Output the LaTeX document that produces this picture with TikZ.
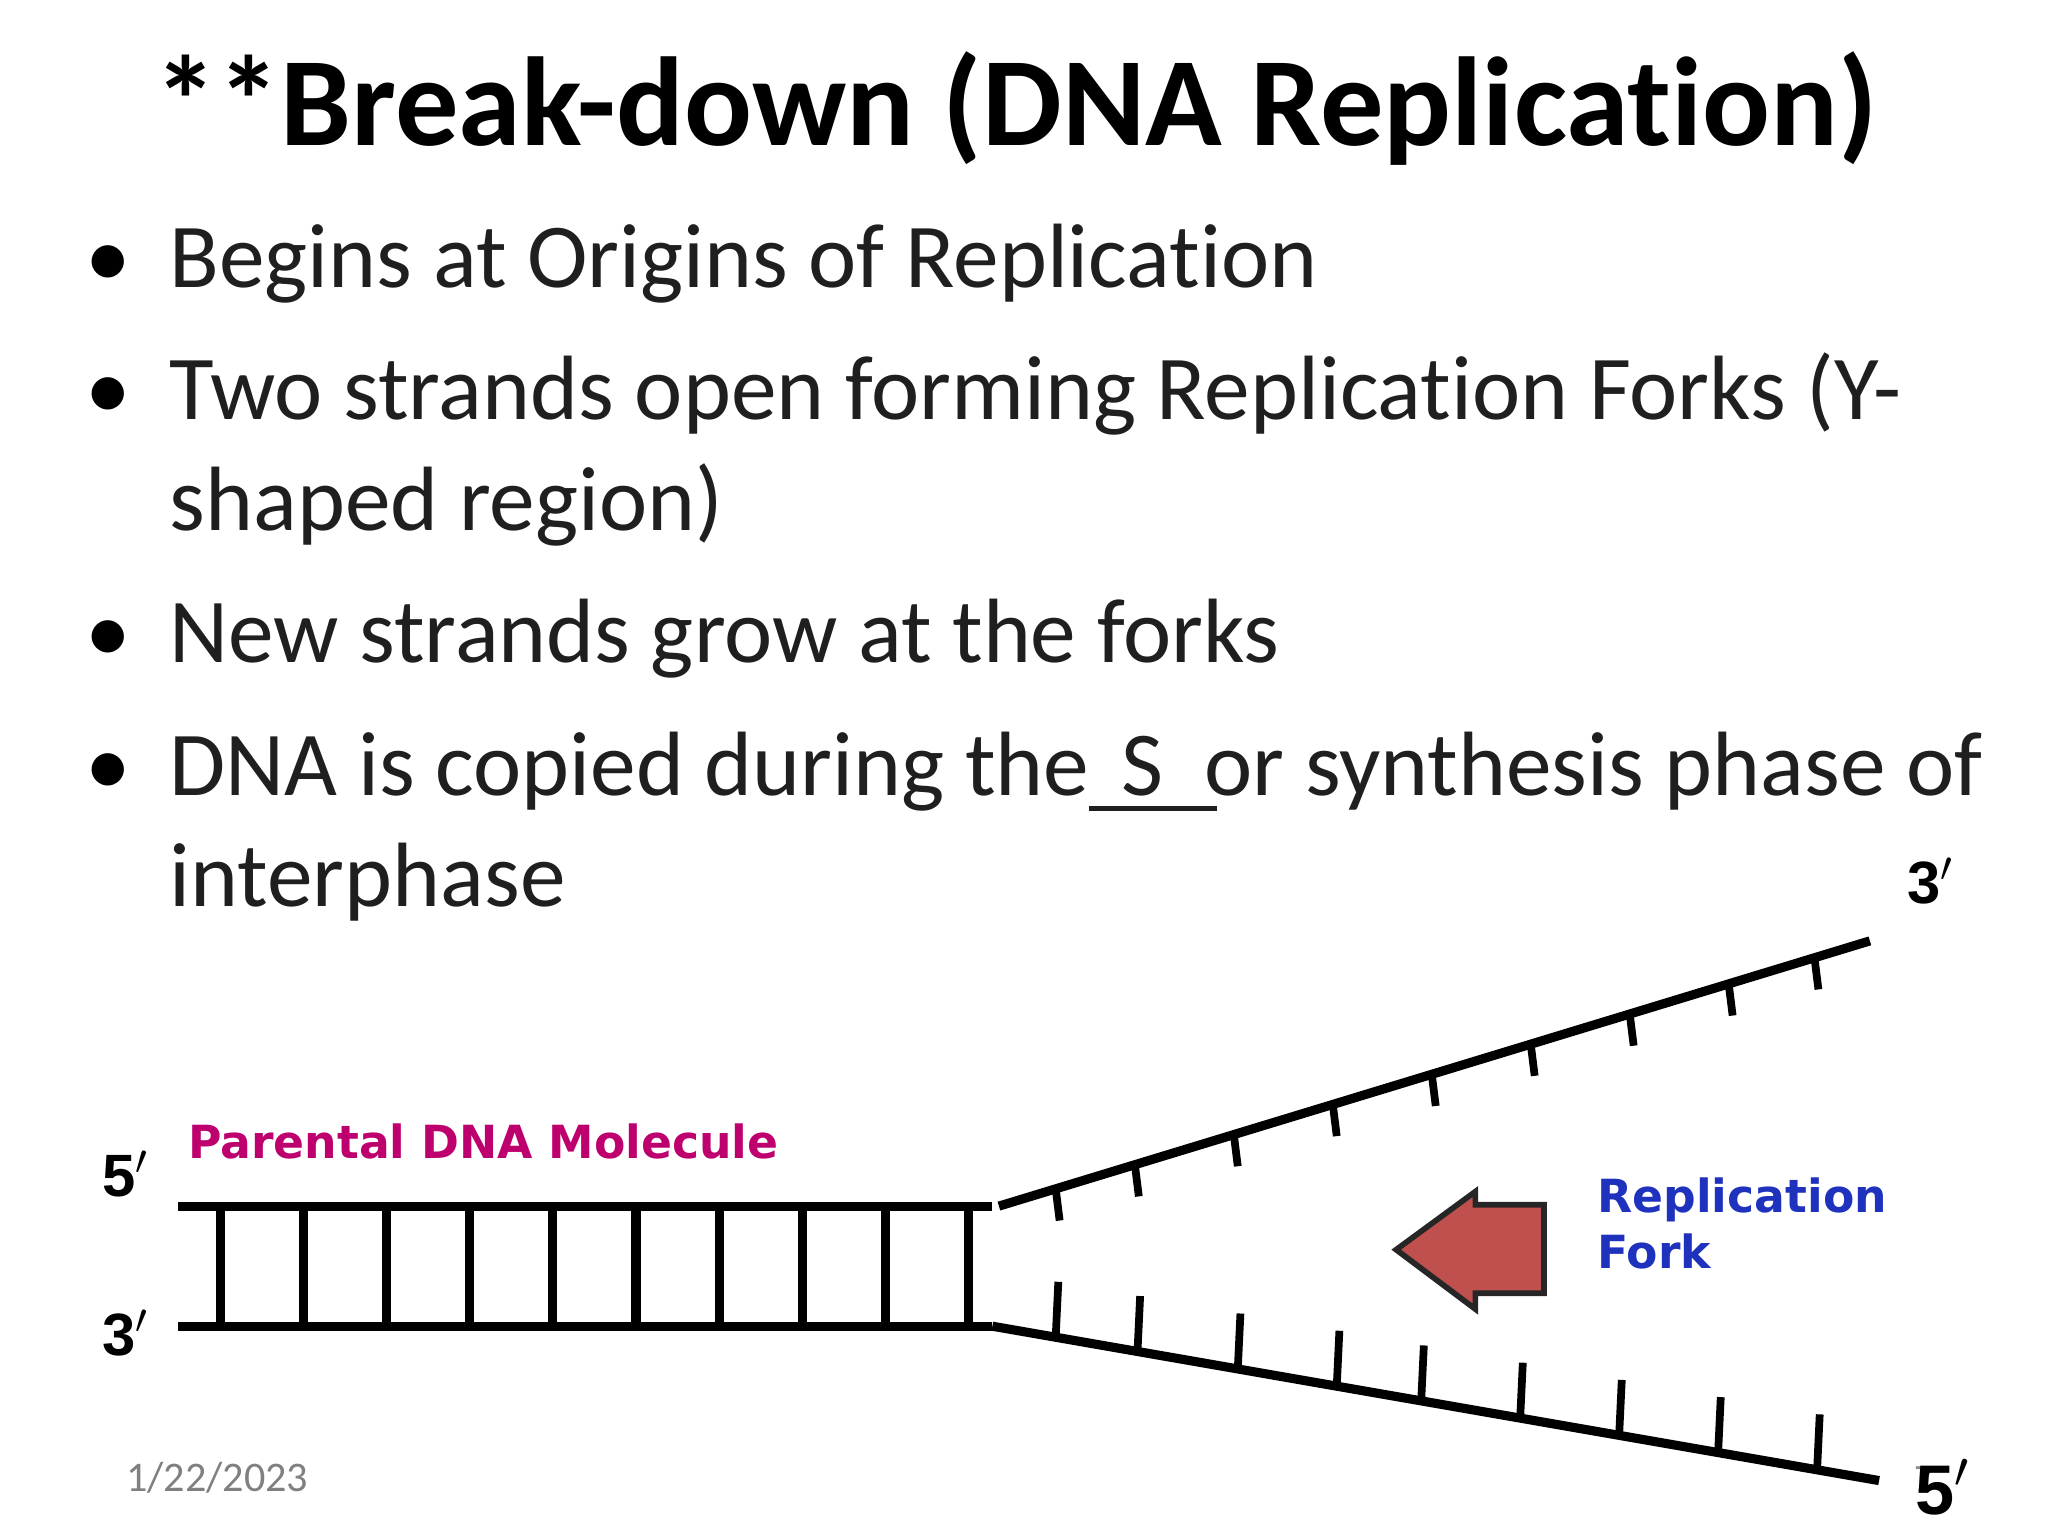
\documentclass[tikz,border=0pt]{standalone}
\usepackage{fontspec}
\setmainfont[Ligatures=NoCommon]{Carlito}
\newfontfamily\comicf{DejaVu Sans}
\newfontfamily\arialf{Liberation Sans}
\newcommand{\ulS}{\rlap{\rule[-0.17em]{1.4em}{0.06em}}\hspace*{0.35em}S\hspace*{0.45em}}
\begin{document}
\begin{tikzpicture}[x=0.013196cm,y=-0.013196cm,
  strand/.style={line width=2.6pt},
  rung/.style={line width=2.6pt},
  tick/.style={line width=2.2pt},
  endlab/.style={font=\arialf\bfseries\fontsize{17}{20}\selectfont},
  bul/.style={anchor=base west,inner sep=0pt,font=\fontsize{26}{32}\selectfont,text=black!88}]
\useasboundingbox (0,0) rectangle (1552,1164);
\node[anchor=base,font=\bfseries\fontsize{36}{40}\selectfont] (title) at (770,110) {**Break-down (DNA Replication)};
\foreach \yy/\t [count=\i] in {218/{Begins at Origins of Replication},318/{Two strands open forming Replication Forks (Y-},502/{New strands grow at the forks},603/{DNA is copied during the\ulS or synthesis phase of}}{
  \node[bul] (b\i) at (128,\yy) {\t};
  \node[anchor=base,font=\fontsize{26}{32}\selectfont] (d\i) at (82,\yy) {•};
}
\node[bul] (c1) at (128,402) {shaped region)};
\node[bul] (c2) at (128,687) {interphase};
% ladder
\coordinate (t0) at (135,914); \coordinate (t1) at (752,914);
\coordinate (u0) at (135,1005); \coordinate (u1) at (752,1005);
\draw[strand] (t0) -- (t1);
\draw[strand] (u0) -- (u1);
\foreach \x in {167,230,293,356,419,482,545,608,671,734} \draw[rung] (\x,914) -- (\x,1005);
% fork
\coordinate (f1) at (757,914); \coordinate (f2) at (1417,713);
\coordinate (g1) at (752,1005); \coordinate (g2) at (1424,1122);
\draw[strand] (f1) -- (f2);
\draw[strand] (g1) -- (g2);
\foreach \x in {800,860,935,1010,1085,1160,1235,1310,1375}{
  \pgfmathsetmacro\yy{914-(\x-757)/660*201}
  \draw[tick] (\x,\yy) -- (\x+3,\yy+24);}
\foreach \x in {800,862,938,1013,1077,1152,1227,1302,1377}{
  \pgfmathsetmacro\yy{1005+(\x-752)/672*117}
  \draw[tick] (\x,\yy) -- (\x+2,\yy-42);}
% arrow
\draw[line width=1.6pt,fill={rgb,255:red,192;green,80;blue,77},draw=black!85] (1058,947) -- (1118,903) -- (1118,913) -- (1170,913) -- (1170,980) -- (1118,980) -- (1118,992) -- cycle;
\node[anchor=west,inner sep=0pt,align=left,text={rgb,255:red,30;green,50;blue,190},font=\comicf\bfseries\fontsize{13}{16}\selectfont] (rf) at (1210,927) {Replication\\Fork};
\node[anchor=base west,inner sep=0pt,text={rgb,255:red,190;green,0;blue,110},font=\comicf\bfseries\fontsize{13}{16}\selectfont] (pd) at (142,878) {Parental DNA Molecule};
\node[endlab] (l5a) at (95,890) {5$'$};
\node[endlab] (l3a) at (95,1010) {3$'$};
\node[endlab] (l3b) at (1463,668) {3$'$};
\node[anchor=base,font=\fontsize{11}{13}\selectfont,text=black!45] (pg) at (1458,1130) {7};
\node[endlab,font=\arialf\bfseries\fontsize{20}{22}\selectfont] (l5b) at (1472,1127) {5$'$};
\node[anchor=base west,inner sep=0pt,font=\fontsize{12}{14}\selectfont,text=black!50] (dt) at (95,1130) {1/22/2023};
\end{tikzpicture}
\end{document}
